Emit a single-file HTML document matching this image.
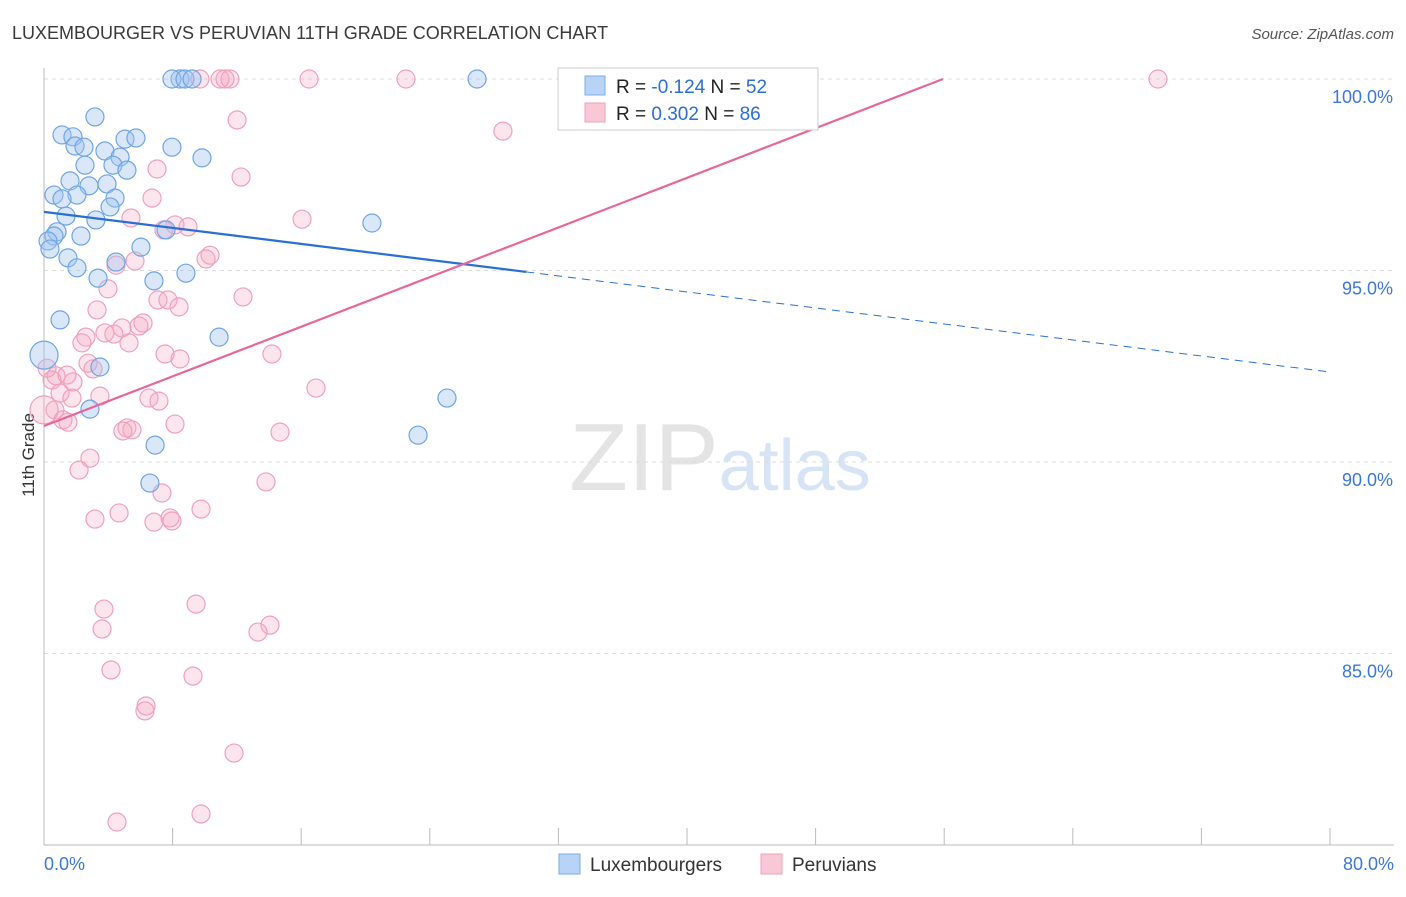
<!DOCTYPE html>
<html><head><meta charset="utf-8"><style>
body{margin:0;background:#fff;font-family:"Liberation Sans",sans-serif}
svg text{font-family:"Liberation Sans",sans-serif}
</style></head><body>
<svg id="chart" width="1406" height="892" xmlns="http://www.w3.org/2000/svg">
<text x="12" y="39" font-size="18" fill="#3a3a3a">LUXEMBOURGER VS PERUVIAN 11TH GRADE CORRELATION CHART</text>
<text x="1394" y="39" font-size="15" fill="#555" text-anchor="end" font-style="italic">Source: ZipAtlas.com</text>
<text x="720" y="490" font-size="96" text-anchor="middle" fill="#e4e4e4" font-family="Liberation Serif">ZIP<tspan fill="#d6e4f5" font-family="Liberation Sans" font-size="72">atlas</tspan></text>
<text transform="translate(34,455) rotate(-90)" font-size="17" fill="#333" text-anchor="middle">11th Grade</text>
<g id="grid"></g>
<g id="axes"></g>
<g id="pts"></g>
<g id="trend"></g>
<g>
<rect x="558" y="68" width="260" height="62" fill="#fff" stroke="#ccc"/>
<rect x="585" y="76" width="20" height="19" fill="#b8d3f5" stroke="#7aaee8"/>
<text x="616" y="93" font-size="19" fill="#222">R = <tspan fill="#2a6fd6">-0.124</tspan>   N = <tspan fill="#2a6fd6">52</tspan></text>
<rect x="585" y="103" width="20" height="19" fill="#f8c8d6" stroke="#f0a0bb"/>
<text x="616" y="120" font-size="19" fill="#222">R =  <tspan fill="#2a6fd6">0.302</tspan>   N = <tspan fill="#2a6fd6">86</tspan></text>
</g>
<g>
<rect x="559" y="854" width="21" height="20" fill="#b8d3f5" stroke="#7aaee8"/>
<text x="590" y="871" font-size="19" fill="#333">Luxembourgers</text>
<rect x="761" y="854" width="21" height="20" fill="#f8c8d6" stroke="#f0a0bb"/>
<text x="792" y="871" font-size="19" fill="#333">Peruvians</text>
</g>
</svg>
<script>
const blueX=[8.46,7.96,8.77,9.21,26.94,3.17,1.12,1.80,5.04,5.72,1.93,2.49,3.79,7.96,9.83,4.73,2.55,4.29,5.16,1.62,2.80,3.92,0.62,2.05,1.12,4.42,4.11,1.37,3.23,20.40,0.81,0.62,2.30,7.59,0.25,0.37,6.03,1.49,4.48,2.05,8.83,3.36,6.84,1.00,10.89,0,3.48,25.07,2.86,23.27,6.91,6.59];
const blueY=[100,100,100,100,100,99.01,98.54,98.49,98.43,98.46,98.25,98.22,98.12,98.22,97.94,97.96,97.75,97.75,97.62,97.34,97.21,97.26,96.97,96.97,96.87,96.89,96.66,96.42,96.32,96.24,96.01,95.90,95.90,96.06,95.77,95.56,95.61,95.33,95.22,95.07,94.93,94.80,94.73,93.71,93.26,92.79,92.48,91.67,91.38,90.70,90.44,89.45];
const pinkX=[9.70,10.95,11.57,11.26,16.49,22.52,69.30,12.01,28.55,7.03,12.26,6.72,5.41,16.05,8.15,8.96,7.46,10.33,10.08,4.48,5.66,3.98,12.38,7.09,7.71,8.40,3.30,6.16,5.91,4.85,3.79,2.61,4.35,2.36,5.29,14.18,7.53,8.46,2.74,3.05,0.19,0.75,1.43,0.50,1.80,16.92,1.00,3.48,6.53,1.74,7.15,0.68,0,1.18,1.49,8.15,5.16,5.47,4.91,14.68,2.86,2.18,13.81,7.34,9.77,4.67,3.17,7.84,6.84,7.96,3.73,9.46,14.06,3.61,13.31,4.17,9.27,6.35,6.28,11.82,4.54,9.77];
const pinkY=[100,100,100,100,100,100,100,98.93,98.64,97.65,97.44,96.89,96.37,96.34,96.19,96.14,96.06,95.40,95.30,95.14,95.25,94.52,94.31,94.23,94.23,94.05,93.97,93.63,93.55,93.50,93.37,93.26,93.34,93.11,93.11,92.82,92.82,92.69,92.58,92.43,92.45,92.25,92.27,92.14,92.09,91.93,91.80,91.72,91.67,91.67,91.59,91.36,91.36,91.10,91.04,90.99,90.89,90.84,90.81,90.78,90.10,89.79,89.48,89.19,88.77,88.67,88.51,88.54,88.43,88.46,86.16,86.29,85.74,85.64,85.56,84.57,84.41,83.63,83.50,82.40,80.60,80.81];
const yTicks=[100,95,90,85];
const yTickLabels=["100.0%","95.0%","90.0%","85.0%"];
const blueTrend=[96.53,92.35];
const pinkTrend=[90.94,0.162];
const NS="http://www.w3.org/2000/svg";
const sx=v=>44+v*16.075, sy=v=>79+(100-v)*38.3;
function mk(p,t,a){const e=document.createElementNS(NS,t);for(const k in a)e.setAttribute(k,a[k]);document.getElementById(p).appendChild(e);return e;}
yTicks.forEach((t,i)=>{
 const l=mk('grid','line',{x1:44,x2:1394,y1:sy(t),y2:sy(t),stroke:'#ddd','stroke-dasharray':'4 4'});
 
 
 const tx=mk('grid','text',{x:1393,y:sy(t)+24,'font-size':18,fill:'#3b78d8','text-anchor':'end'});
 tx.textContent=yTickLabels[i];
 
 
});
const ax=mk('axes','line',{x1:44,x2:44,y1:68,y2:845,stroke:'#bbb'});


const bx=mk('axes','line',{x1:44,x2:1394,y1:845,y2:845,stroke:'#bbb'});


for(let v=0;v<=80;v+=8){const t=mk('axes','line',{x1:sx(v),x2:sx(v),y1:828,y2:845,stroke:'#bbb'});
 
 }
[["0.0%",44,"start"],["80.0%",1394,"end"]].forEach(a=>{const t=mk('axes','text',{x:a[1],y:870,'font-size':18,fill:'#3b78d8','text-anchor':a[2]});t.textContent=a[0];
 
 });
function pts(X,Y,fill,stroke,name){X.forEach((x,i)=>{const r=x===0?14:9;const c=mk('pts','circle',{cx:sx(x),cy:sy(Y[i]),r:r,fill:fill,stroke:stroke,'stroke-width':1.2});
 
 });}
pts(pinkX,pinkY,'rgba(245,170,195,0.3)','#f0a0bb','peruvian-point');
pts(blueX,blueY,'rgba(160,196,240,0.4)','#6fa5e6','luxembourger-point');
const bf=x=>blueTrend[0]+(blueTrend[1]-blueTrend[0])*x/80;
const b1=mk('trend','line',{x1:sx(0),y1:sy(bf(0)),x2:sx(30),y2:sy(bf(30)),stroke:'#2a6fd6','stroke-width':2.2});


const b2=mk('trend','line',{x1:sx(30),y1:sy(bf(30)),x2:sx(80),y2:sy(bf(80)),stroke:'#2a6fd6','stroke-width':1,'stroke-dasharray':'8 6'});


const xe=(100-pinkTrend[0])/pinkTrend[1];
const p1=mk('trend','line',{x1:sx(0),y1:sy(pinkTrend[0]),x2:sx(xe),y2:sy(100),stroke:'#e8679a','stroke-width':2.2});


</script>
</body></html>
